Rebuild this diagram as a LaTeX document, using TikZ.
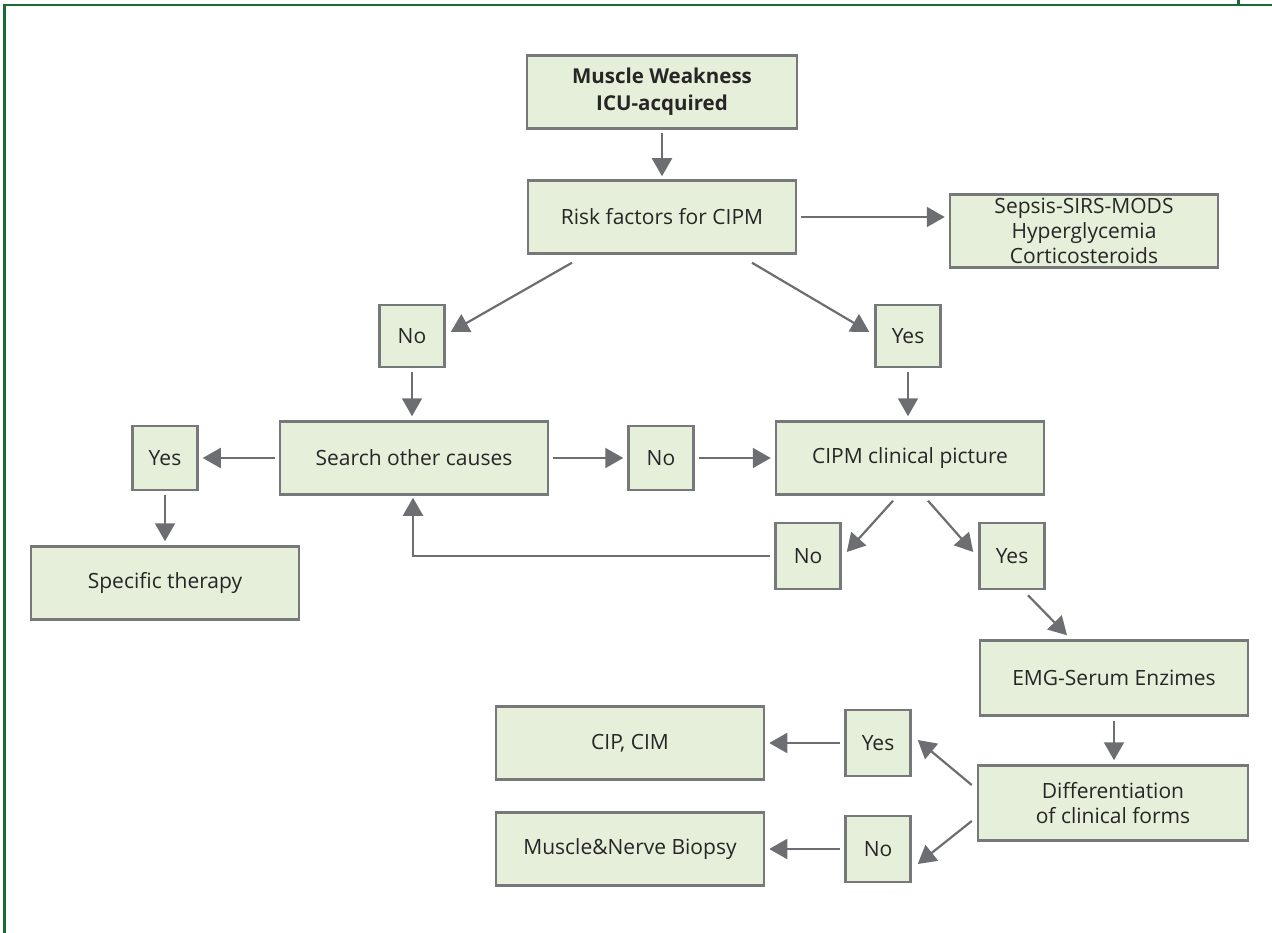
\documentclass[tikz,border=0pt]{standalone}
\usepackage{fontspec}
\setmainfont{Open Sans}
\usetikzlibrary{arrows.meta}
\definecolor{boxfill}{HTML}{E5EFD9}
\definecolor{boxline}{HTML}{77787A}
\definecolor{arrgray}{HTML}{6D6E71}
\definecolor{framegreen}{HTML}{1B6B35}
\tikzset{
  base/.style={rectangle, draw=boxline, fill=boxfill, line width=2.5pt, align=center,
    font=\fontsize{21}{25}\selectfont, text=black!85, inner sep=0pt},
  bigbox/.style={base, minimum width=268pt, minimum height=73pt},
  smallbox/.style={base, minimum width=65pt, minimum height=64pt},
  arr/.style={draw=arrgray, line width=2.2pt, -{Triangle[length=18pt,width=20pt]}},
}
\begin{document}
\begin{tikzpicture}[x=1pt,y=-1pt]
\useasboundingbox (0,0) rectangle (1272,933);
% frame
\draw[framegreen, line width=2.6pt] (4.5,933) -- (4.5,5) -- (1272,5);
\draw[framegreen, line width=3pt] (1238,0) -- (1238,5);
% nodes
\node[bigbox, minimum width=270pt, font=\bfseries\fontsize{20.5}{27}\selectfont] (mw) at (662,92) {Muscle Weakness\\ICU-acquired};
\node[bigbox] (risk) at (662,217) {Risk factors for CIPM};
\node[bigbox] (sepsis) at (1084,231) {Sepsis-SIRS-MODS\\Hyperglycemia\\Corticosteroids};
\node[smallbox, minimum height=62pt] (no1) at (412,336) {No};
\node[smallbox, minimum height=62pt] (yes1) at (908,336) {Yes};
\node[bigbox] (search) at (414,458) {Search other causes};
\node[smallbox] (no2) at (661,458) {No};
\node[bigbox] (cipm) at (910,458) {CIPM clinical picture};
\node[smallbox] (yes2) at (165,458) {Yes};
\node[bigbox] (spec) at (165,583) {Specific therapy};
\node[smallbox, minimum height=66pt] (no3) at (808,556) {No};
\node[smallbox, minimum height=66pt] (yes3) at (1012,556) {Yes};
\node[bigbox, minimum height=75pt] (emg) at (1114,678) {EMG-Serum Enzimes};
\node[bigbox, minimum width=270pt, minimum height=75pt] (diff) at (1113,803) {Differentiation\\of clinical forms};
\node[smallbox, minimum height=66pt] (yes4) at (878,743) {Yes};
\node[smallbox, minimum height=66pt] (no4) at (878,849) {No};
\node[bigbox] (cip) at (630,743) {CIP, CIM};
\node[bigbox] (bio) at (630,849) {Muscle\&Nerve Biopsy};
% connectors
\draw[arr, shorten <=3pt, shorten >=3pt] (mw.south) -- (risk.north);
\draw[arr, shorten <=4pt, shorten >=4pt] (risk.east) -- ([yshift=14pt]sepsis.west);
\draw[arr] ([xshift=-90pt,yshift=-8pt]risk.south) -- ([xshift=5pt,yshift=4pt]no1.east);
\draw[arr] ([xshift=90pt,yshift=-8pt]risk.south) -- ([xshift=-5pt,yshift=4pt]yes1.west);
\draw[arr, shorten <=4pt, shorten >=4pt] (no1.south) -- ([xshift=-2pt]search.north);
\draw[arr, shorten <=4pt, shorten >=4pt] (yes1.south) -- ([xshift=-2pt]cipm.north);
\draw[arr, shorten <=4pt, shorten >=4pt] (search.west) -- (yes2.east);
\draw[arr, shorten <=4pt, shorten >=4pt] (yes2.south) -- (spec.north);
\draw[arr, shorten <=4pt, shorten >=4pt] (search.east) -- (no2.west);
\draw[arr, shorten <=4pt, shorten >=4pt] (no2.east) -- (cipm.west);
\draw[arr] ([xshift=-17pt,yshift=-5pt]cipm.south) -- ([xshift=5pt,yshift=4pt]no3.east);
\draw[arr] ([xshift=18pt,yshift=-5pt]cipm.south) -- ([xshift=-5pt,yshift=4pt]yes3.west);
\draw[arr, shorten <=4pt, shorten >=2pt] (no3.west) -| ([xshift=-1pt]search.south);
\draw[arr] ([xshift=16pt,yshift=-5pt]yes3.south) -- ([xshift=-47pt,yshift=4pt]emg.north);
\draw[arr, shorten <=4pt, shorten >=4pt] (emg.south) -- ([xshift=1pt]diff.north);
\draw[arr] ([xshift=-5pt,yshift=18pt]diff.west) -- ([xshift=6pt,yshift=3pt]yes4.east);
\draw[arr] ([xshift=-5pt,yshift=-18pt]diff.west) -- ([xshift=6pt,yshift=-15pt]no4.east);
\draw[arr, shorten <=4pt, shorten >=4pt] (yes4.west) -- (cip.east);
\draw[arr, shorten <=4pt, shorten >=4pt] (no4.west) -- (bio.east);
\end{tikzpicture}
\end{document}
